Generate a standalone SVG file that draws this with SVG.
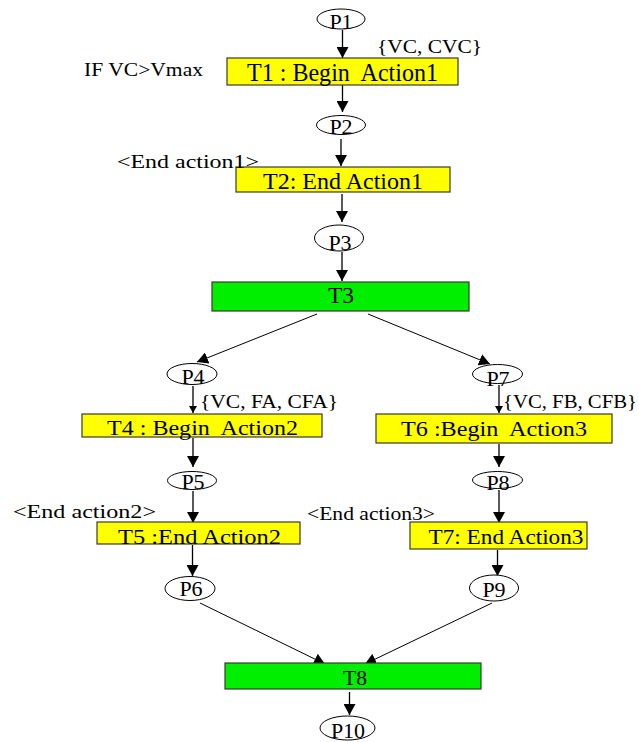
<svg xmlns="http://www.w3.org/2000/svg" width="639" height="742" viewBox="0 0 639 742" font-family="'Liberation Serif', 'Times New Roman', Times, serif">
<style>
  text { font-family: "Liberation Serif", "Times New Roman", Times, serif; fill: #000; white-space: pre; }
  .place { fill: #fff; stroke: #000; stroke-width: 1; }
  .tr { fill: #ffff00; stroke: #3a3a30; stroke-width: 1.2; }
  .trg { fill: #00ee00; stroke: #3a3a30; stroke-width: 1.2; }
  .pl { font-size: 22px; text-anchor: middle; }
  .lab { font-size: 18px; }
  .arc { stroke: #000; stroke-width: 1.3; fill: none; }
  .arcd { stroke: #000; stroke-width: 1; fill: none; }
</style>
<defs>
  <marker id="ah" viewBox="0 0 11 12" refX="11" refY="6" markerWidth="11" markerHeight="12" markerUnits="userSpaceOnUse" orient="auto">
    <path d="M0,0 L11,6 L0,12 z" fill="#000"/>
  </marker>
  <marker id="ahs" viewBox="0 0 7 8" refX="7" refY="4" markerWidth="7" markerHeight="8" markerUnits="userSpaceOnUse" orient="auto">
    <path d="M0,0 L7,4 L0,8 z" fill="#000"/>
  </marker>
</defs>

<g id="connectors">
  <line class="arc" x1="342.5" y1="30" x2="342.5" y2="58" marker-end="url(#ah)"/>
  <line class="arc" x1="342.5" y1="85" x2="342.5" y2="112" marker-end="url(#ah)"/>
  <line class="arc" x1="341" y1="139" x2="341" y2="166" marker-end="url(#ah)"/>
  <line class="arc" x1="342" y1="194" x2="342" y2="222" marker-end="url(#ah)"/>
  <line class="arc" x1="342" y1="252" x2="342" y2="281" marker-end="url(#ah)"/>
  <line class="arcd" x1="317" y1="314" x2="197" y2="362" marker-end="url(#ah)"/>
  <line class="arcd" x1="368" y1="314" x2="490" y2="364" marker-end="url(#ah)"/>
  <line class="arc" x1="193" y1="386" x2="193" y2="413" marker-end="url(#ahs)"/>
  <line class="arc" x1="499" y1="385" x2="499" y2="413" marker-end="url(#ahs)"/>
  <line class="arc" x1="193" y1="438" x2="193" y2="467" marker-end="url(#ah)"/>
  <line class="arc" x1="499" y1="444" x2="499" y2="467" marker-end="url(#ah)"/>
  <line class="arc" x1="193" y1="491" x2="193" y2="523" marker-end="url(#ah)"/>
  <line class="arc" x1="499" y1="490" x2="499" y2="523" marker-end="url(#ah)"/>
  <line class="arc" x1="192.5" y1="545" x2="192.5" y2="576" marker-end="url(#ah)"/>
  <line class="arc" x1="497.5" y1="550" x2="497.5" y2="576" marker-end="url(#ah)"/>
  <line class="arcd" x1="200" y1="603" x2="325" y2="664" marker-end="url(#ah)"/>
  <line class="arcd" x1="492" y1="603" x2="365" y2="664" marker-end="url(#ah)"/>
  <line class="arc" x1="349.5" y1="692" x2="349.5" y2="715" marker-end="url(#ah)"/>
</g>

<g id="P1"><ellipse class="place" cx="341" cy="19" rx="24" ry="10"/><text class="pl" x="341" y="28.5">P1</text></g>
<g id="T1"><rect class="tr" x="227" y="58" width="231" height="27"/><text x="247" y="81" font-size="25" textLength="191" lengthAdjust="spacingAndGlyphs">T1 : Begin  Action1</text></g>
<g id="P2"><ellipse class="place" cx="341" cy="125" rx="24.5" ry="9.5"/><text class="pl" x="341" y="133.5">P2</text></g>
<g id="T2"><rect class="tr" x="236" y="167" width="214" height="25"/><text x="263" y="188.5" font-size="23" textLength="160" lengthAdjust="spacingAndGlyphs">T2: End Action1</text></g>
<g id="P3"><ellipse class="place" cx="339" cy="238" rx="24.5" ry="13"/><text class="pl" x="340" y="250">P3</text></g>
<g id="T3"><rect class="trg" x="212" y="282" width="257" height="29"/><text x="328" y="302.5" font-size="23" textLength="26" lengthAdjust="spacingAndGlyphs">T3</text></g>
<g id="P4"><ellipse class="place" cx="192" cy="374" rx="25" ry="10.5"/><text class="pl" x="193" y="383.5">P4</text></g>
<g id="T4"><rect class="tr" x="82" y="414" width="240" height="23"/><text x="107" y="434.5" font-size="22" textLength="191" lengthAdjust="spacingAndGlyphs">T4 : Begin  Action2</text></g>
<g id="P5"><ellipse class="place" cx="192" cy="480.5" rx="24.5" ry="9"/><text class="pl" x="193" y="488.5">P5</text></g>
<g id="T5"><rect class="tr" x="97" y="522" width="203" height="22"/><text x="118" y="543.5" font-size="22" textLength="163" lengthAdjust="spacingAndGlyphs">T5 :End Action2</text></g>
<g id="P6"><ellipse class="place" cx="190" cy="588.5" rx="25" ry="12"/><text class="pl" x="191" y="595.5">P6</text></g>
<g id="P7"><ellipse class="place" cx="497.5" cy="374" rx="25" ry="9.5"/><text class="pl" x="498" y="385.5">P7</text></g>
<g id="T6"><rect class="tr" x="376" y="414" width="236" height="29"/><text x="401" y="435.5" font-size="22" textLength="186" lengthAdjust="spacingAndGlyphs">T6 :Begin  Action3</text></g>
<g id="P8"><ellipse class="place" cx="497.5" cy="480" rx="25" ry="8.5"/><text class="pl" x="498" y="489.5">P8</text></g>
<g id="T7"><rect class="tr" x="410" y="522" width="177" height="27"/><text x="428.5" y="543.5" font-size="22" textLength="155" lengthAdjust="spacingAndGlyphs">T7: End Action3</text></g>
<g id="P9"><ellipse class="place" cx="494" cy="588" rx="24.5" ry="13"/><text class="pl" x="494" y="596.5">P9</text></g>
<g id="T8"><rect class="trg" x="225" y="663" width="256" height="26"/><text x="343" y="684.5" font-size="22" textLength="24" lengthAdjust="spacingAndGlyphs">T8</text></g>
<g id="P10"><ellipse class="place" cx="347.5" cy="728" rx="27.5" ry="12"/><text class="pl" x="348" y="737.5">P10</text></g>

<g id="labels">
  <text class="lab" x="84" y="76" textLength="119" lengthAdjust="spacingAndGlyphs">IF VC&gt;Vmax</text>
  <text class="lab" x="377" y="52.5" textLength="105" lengthAdjust="spacingAndGlyphs">{VC, CVC}</text>
  <text class="lab" x="117" y="168" font-size="20" textLength="142" lengthAdjust="spacingAndGlyphs">&lt;End action1&gt;</text>
  <text class="lab" x="200" y="408" textLength="138" lengthAdjust="spacingAndGlyphs">{VC, FA, CFA}</text>
  <text class="lab" x="503" y="408" textLength="134" lengthAdjust="spacingAndGlyphs">{VC, FB, CFB}</text>
  <text class="lab" x="13" y="518" font-size="19" textLength="143" lengthAdjust="spacingAndGlyphs">&lt;End action2&gt;</text>
  <text class="lab" x="307" y="520" textLength="128" lengthAdjust="spacingAndGlyphs">&lt;End action3&gt;</text>
</g>
</svg>
